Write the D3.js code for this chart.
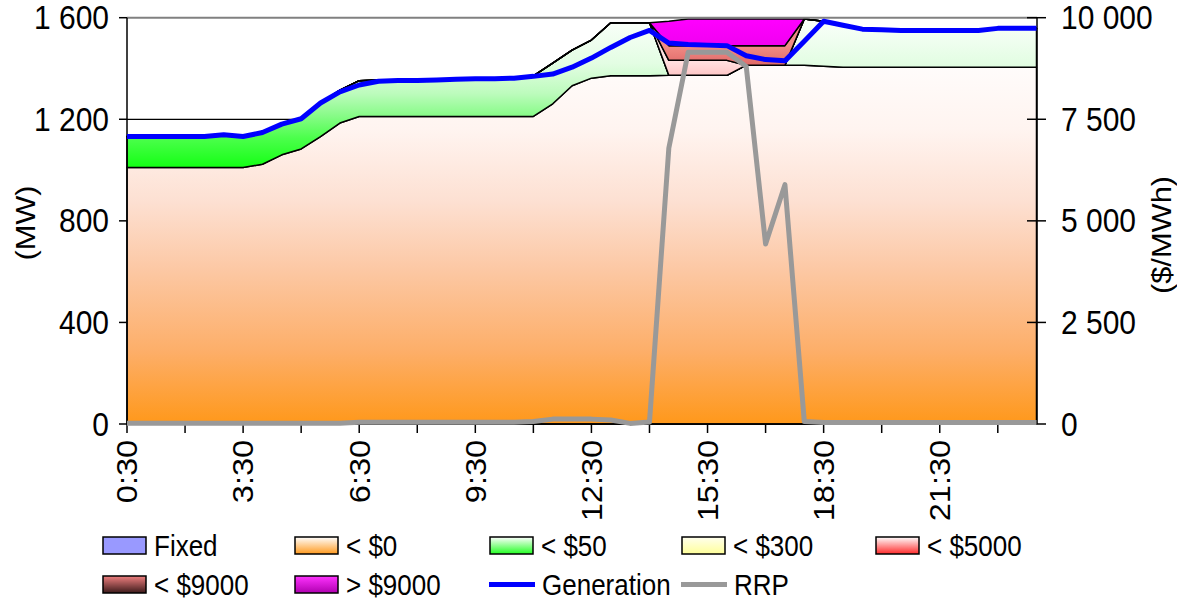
<!DOCTYPE html>
<html><head><meta charset="utf-8">
<script src="https://cdn.jsdelivr.net/npm/d3@7"></script>
<style>
body{margin:0;background:#fff}
svg{display:block}
text{font-family:"Liberation Sans",Arial,sans-serif;fill:#000}
</style>
</head><body>
<svg id="c" width="1177" height="604"></svg>
<script>
// ---------------- data ----------------
const times = ["0:30","1:00","1:30","2:00","2:30","3:00","3:30","4:00","4:30","5:00","5:30","6:00",
"6:30","7:00","7:30","8:00","8:30","9:00","9:30","10:00","10:30","11:00","11:30","12:00",
"12:30","13:00","13:30","14:00","14:30","15:00","15:30","16:00","16:30","17:00","17:30","18:00",
"18:30","19:00","19:30","20:00","20:30","21:00","21:30","22:00","22:30","23:00","23:30","0:00"];
const xTickLabels = ["0:30","3:30","6:30","9:30","12:30","15:30","18:30","21:30"];
const xMinorTicks = ["0:30","2:00","3:30","5:00","6:30","8:00","9:30","11:00","12:30","14:00","15:30","17:00","18:30","20:00","21:30","23:00"];

const seriesNames = ["Fixed","< $0","< $50","< $300","< $5000","< $9000","> $9000"];
// MW in each price band (stacked)
const fixed     = [0,0,0,0,0,0,0,0,0,0,0,0,0,0,0,0,0,0,0,0,0,0,0,0,0,0,0,0,0,0,0,0,0,0,0,0,0,0,0,0,0,0,0,0,0,0,0,0];
const below0    = [1010,1010,1010,1010,1010,1010,1010,1023,1060,1083,1132,1185,1211,
                   1211,1211,1211,1211,1211,1211,1211,1211,1211,1261,1332,1362,1371,1371,1371,
                   1373,1373,1373,1373,1413,1413,1413,1413,1409,
                   1405,1405,1405,1405,1405,1405,1405,1405,1405,1405,1405];
const below50   = [122,122,122,122,122,129,122,125,121,119,132,130,141,
                   144,144,144,145,147,149,149,151,160,160,140,150,209,209,209,
                   0,0,0,0,0,0,0,
                   182,177,165,152,148,145,145,145,145,145,153,153,153];
const below300  = [0,0,0,0,0,0,0,0,0,0,0,0,0,0,0,0,0,0,0,0,0,0,0,0,0,0,0,0,0,0,0,0,0,0,0,0,0,0,0,0,0,0,0,0,0,0,0,0];
const below5000 = [0,0,0,0,0,0,0,0,0,0,0,0,0,0,0,0,0,0,0,0,0,0,0,0,0,0,0,0,59,59,59,59,0,0,0,0,0,0,0,0,0,0,0,0,0,0,0,0];
const below9000 = [0,0,0,0,0,0,0,0,0,0,0,0,0,0,0,0,0,0,0,0,0,0,0,0,0,0,0,0,58,58,58,58,77,77,77,0,0,0,0,0,0,0,0,0,0,0,0,0];
const above9000 = [0,0,0,0,0,0,0,0,0,0,0,0,0,0,0,0,0,0,0,0,0,0,0,0,0,0,0,0,96,105,105,105,105,105,105,0,0,0,0,0,0,0,0,0,0,0,0,0];
const generation = [1132,1132,1132,1132,1132,1139,1132,1148,1181,1202,1264,1308,1335,
                    1350,1353,1353,1355,1358,1360,1360,1362,1369,1378,1405,1441,1483,1522,1550,
                    1500,1494,1492,1490,1450,1435,1430,
                    1507,1586,1570,1555,1553,1550,1550,1550,1550,1550,1558,1558,1558];
const rrp = [20,20,20,20,20,20,20,20,20,20,20,20,
             45,45,45,45,45,45,45,45,45,
             60,120,120,120,100,15,50,
             6790,9150,9150,9150,8800,4430,5890,
             60,35,35,35,35,35,35,35,35,35,35,35,35];
const leftTicks = [0,400,800,1200,1600];
const leftTickLabels = ["0","400","800","1 200","1 600"];
const rightTicks = [0,2500,5000,7500,10000];
const rightTickLabels = ["0","2 500","5 000","7 500","10 000"];

// ---------------- styles ----------------
const areaStops = {
  "Fixed":   [[0,"#9999ff"],[1,"#9999ff"]],
  "< $0":    [[0,"#ff981a"],[0.2,"#fdae68"],[0.43,"#fcc8a4"],[0.62,"#fde0d2"],[0.82,"#fff4f0"],[1,"#fffcfb"]],
  "< $50":   [[0,"#14ff14"],[0.2,"#4cff4c"],[0.36,"#8cfb8c"],[0.5,"#bdfbbd"],[0.7,"#e3fde3"],[1,"#fbfffb"]],
  "< $300":  [[0,"#ffff99"],[1,"#ffffe0"]],
  "< $5000": [[0,"#ffc6c6"],[1,"#ffe2e2"]],
  "< $9000": [[0,"#e06a68"],[1,"#f28c86"]],
  "> $9000": [[0,"#f000f0"],[1,"#ff00ff"]]
};
const legendStops = {
  "Fixed":   [[0,"#9999ff"],[1,"#9999ff"]],
  "< $0":    [[0,"#ff9a1e"],[1,"#ffffff"]],
  "< $50":   [[0,"#22ff22"],[1,"#ffffff"]],
  "< $300":  [[0,"#ffff99"],[1,"#ffffee"]],
  "< $5000": [[0,"#ff2a2a"],[1,"#ffffff"]],
  "< $9000": [[0,"#3c1a1a"],[1,"#f08080"]],
  "> $9000": [[0,"#b000b0"],[1,"#ff33ff"]]
};

const svg = d3.select("#c");
const L = 127, R = 1037, T = 17.7, B = 424;
const FS = 30, SY = 1.1;

const x = d3.scalePoint().domain(times).range([L, 1036.5]);
const y = d3.scaleLinear().domain([0,1600]).range([B, T]);
const y2 = d3.scaleLinear().domain([0,10000]).range([B, T]);

const rows = times.map((t,i)=>({t, "Fixed":fixed[i], "< $0":below0[i], "< $50":below50[i],
  "< $300":below300[i], "< $5000":below5000[i], "< $9000":below9000[i], "> $9000":above9000[i]}));
const stacked = d3.stack().keys(seriesNames)(rows);

const defs = svg.append("defs");
function grad(id, stops, units, y1, y2v){
  const g = defs.append("linearGradient").attr("id", id).attr("x1",0).attr("x2",0);
  if(units==="user"){ g.attr("gradientUnits","userSpaceOnUse").attr("y1",y1).attr("y2",y2v); }
  else { g.attr("y1",1).attr("y2",0); }
  stops.forEach(s=>g.append("stop").attr("offset",s[0]).attr("stop-color",s[1]));
}

// gridlines
svg.append("g").selectAll("line").data([400,800,1200]).join("line")
  .attr("x1",L).attr("x2",R).attr("y1",d=>y(d)).attr("y2",d=>y(d))
  .attr("stroke","#000").attr("stroke-width",1.2);

// areas
const area = d3.area().x(d=>x(d.data.t)).y0(d=>y(d[0])).y1(d=>y(d[1]));
stacked.forEach((s,k)=>{
  const nz = s.filter(d=>d[1]-d[0]>0);
  let lo = nz.length? d3.min(nz,d=>d[0]) : 0, hi = nz.length? d3.max(nz,d=>d[1]) : 1;
  const id = "ga"+k;
  grad(id, areaStops[s.key], "user", y(lo), y(hi));
  svg.append("path").datum(s).attr("d", area)
    .attr("fill", `url(#${id})`).attr("stroke","#000").attr("stroke-width",1.5)
    .attr("stroke-linejoin","round");
});

// top border
svg.append("line").attr("x1",L).attr("x2",R).attr("y1",T).attr("y2",T)
  .attr("stroke","#808080").attr("stroke-width",2);

// axes
const ax = svg.append("g").attr("stroke","#000").attr("stroke-width",1.5);
ax.append("line").attr("x1",L).attr("x2",L).attr("y1",T).attr("y2",B);
ax.append("line").attr("x1",R).attr("x2",R).attr("y1",T).attr("y2",B);
ax.append("line").attr("x1",L).attr("x2",R).attr("y1",B).attr("y2",B);
ax.selectAll(".lt").data(leftTicks).join("line").attr("x1",L-8).attr("x2",L).attr("y1",d=>y(d)).attr("y2",d=>y(d));
ax.selectAll(".rt").data(rightTicks).join("line").attr("x1",R-10).attr("x2",R+9).attr("y1",d=>y2(d)).attr("y2",d=>y2(d));
ax.selectAll(".bt").data(xMinorTicks).join("line").attr("x1",d=>x(d)).attr("x2",d=>x(d)).attr("y1",B).attr("y2",B+9);

function txt(px, py, s, anchor, size, rot){
  const g = svg.append("g").attr("transform", `translate(${px},${py}) scale(1,${SY})` + (rot?` rotate(${rot})`:""));
  return g.append("text").attr("text-anchor",anchor).attr("dy","0.35em").style("font-size",size+"px").text(s);
}
leftTicks.forEach((v,i)=>txt(109, y(v), leftTickLabels[i], "end", FS));
rightTicks.forEach((v,i)=>txt(1061, y2(v), rightTickLabels[i], "start", FS));
xTickLabels.forEach(t=>txt(x(t), 440, t, "end", 29.5, -90));
txt(25, 223, "(MW)", "middle", 28, -90);
txt(1161, 235, "($/MWh)", "middle", 28, -90);

// lines
svg.append("path").datum(generation)
  .attr("d", d3.line().x((d,i)=>x(times[i])).y(d=>y(d)))
  .attr("fill","none").attr("stroke","#0000ff").attr("stroke-width",5).attr("stroke-linejoin","round");
svg.append("path").datum(rrp)
  .attr("d", d3.line().x((d,i)=>x(times[i])).y(d=>y2(d)))
  .attr("fill","none").attr("stroke","#999999").attr("stroke-width",5).attr("stroke-linejoin","round");

// legend
const legItems = [
  {name:"Fixed",type:"box"},{name:"< $0",type:"box"},{name:"< $50",type:"box"},{name:"< $300",type:"box"},{name:"< $5000",type:"box"},
  {name:"< $9000",type:"box"},{name:"> $9000",type:"box"},{name:"Generation",type:"line",color:"#0000ff"},{name:"RRP",type:"line",color:"#999999"}
];
const colX = [103,295,490,682,876];
const rowY = [545.5,584.5];
legItems.forEach((it,i)=>{
  const cx = colX[i%5], cy = rowY[Math.floor(i/5)];
  if(it.type==="box"){
    const id = "gl"+i;
    grad(id, legendStops[it.name], "bbox");
    svg.append("rect").attr("x",cx).attr("y",cy-8.5).attr("width",43).attr("height",17)
      .attr("fill",`url(#${id})`).attr("stroke","#000").attr("stroke-width",1.5);
    txt(cx+51, cy, it.name, "start", 26);
  } else {
    svg.append("line").attr("x1",cx-1).attr("x2",cx+45).attr("y1",cy).attr("y2",cy)
      .attr("stroke",it.color).attr("stroke-width",5);
    txt(cx+52, cy, it.name, "start", 26);
  }
});
</script>
</body></html>
